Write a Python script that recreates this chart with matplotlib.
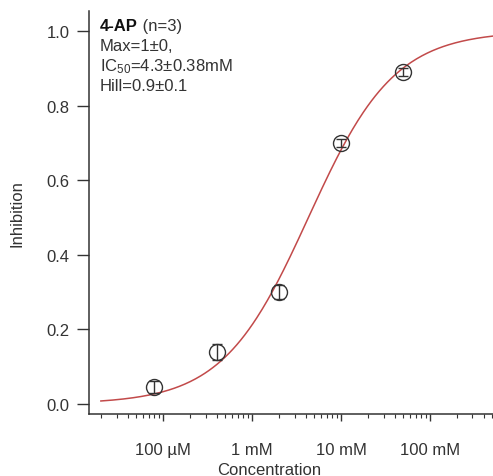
import numpy as np
import matplotlib
matplotlib.use('Agg')
import matplotlib.pyplot as plt

plt.rcParams['font.family'] = ['Liberation Sans', 'DejaVu Sans']
plt.rcParams['mathtext.fontset'] = 'custom'
plt.rcParams['mathtext.rm'] = 'Liberation Sans'
plt.rcParams['mathtext.it'] = 'Liberation Sans'

# data (concentration in M)
conc = [8e-5, 4e-4, 2e-3, 1e-2, 5e-2]
inhib = [0.045, 0.14, 0.30, 0.70, 0.89]
err = [0.016, 0.022, 0.019, 0.01, 0.01]

# fit parameters
fit_max = 1.0
ic50 = 4.3e-3
hill = 0.9
fit_start = 2e-5
fit_end = 0.6

xticks = [1e-4, 1e-3, 1e-2, 1e-1]
xticklabels = ['100 µM', '1 mM', '10 mM', '100 mM']
yticks = [0.0, 0.2, 0.4, 0.6, 0.8, 1.0]

fs = 12
fig = plt.figure(figsize=(4.93, 4.77), dpi=100)
ax = fig.add_axes([0.1805, 0.130, 0.8195, 0.845])

xs = np.logspace(np.log10(fit_start), np.log10(fit_end), 300)
ys = fit_max / (1 + (ic50 / xs) ** hill)
ax.plot(xs, ys, color='#c24a4a', lw=1.1, zorder=2)

ax.errorbar(conc, inhib, yerr=err, fmt='o', mfc='none', mec='#333333',
            ms=11.5, mew=1.0, ecolor='#333333', elinewidth=1.0, capsize=3.5,
            capthick=1.0, zorder=3)

ax.set_xscale('log')
ax.set_xlim(1.47e-5, 0.51)
ax.set_ylim(-0.027, 1.054)
ax.set_xticks(xticks)
ax.set_xticklabels(xticklabels)
ax.set_yticks(yticks)
ax.set_yticklabels(['%.1f' % v for v in yticks])

for s in ['top', 'right']:
    ax.spines[s].set_visible(False)
ax.spines['left'].set_linewidth(1.1)
ax.spines['bottom'].set_linewidth(1.1)
ax.spines['left'].set_color('#333333')
ax.spines['bottom'].set_color('#333333')
ax.tick_params(axis='y', direction='out', length=9, width=1.0, pad=5,
               labelsize=fs, colors='#333333')
ax.tick_params(axis='x', which='major', direction='out', length=5, width=1.0,
               pad=15, labelsize=fs, colors='#333333')
ax.tick_params(axis='x', which='minor', direction='out', length=3, width=0.8,
               colors='#333333')

ax.set_ylabel('Inhibition', fontsize=fs, labelpad=16, color='#333333')
ax.set_xlabel('Concentration', fontsize=fs, labelpad=3, color='#333333')
ax.xaxis.set_label_coords(0.445, -0.118)

# annotation, one line at a time (x in axes fraction, y in data units)
tr = ax.get_yaxis_transform()
t1 = ax.text(0.027, 1.003, '4-AP', transform=tr, fontsize=fs, fontweight='bold',
             va='baseline', ha='left', color='#111111')
fig.canvas.draw()
bb = t1.get_window_extent()
x2 = ax.transAxes.inverted().transform((bb.x1, bb.y0))[0]
ax.text(x2, 1.003, ' (n=3)', transform=tr, fontsize=fs, va='baseline',
        ha='left', color='#333333')
ax.text(0.027, 0.949, 'Max=1±0,', transform=tr, fontsize=fs, va='baseline',
        ha='left', color='#333333')
ax.text(0.027, 0.895, 'IC$_{50}$=4.3±0.38mM', transform=tr, fontsize=fs,
        va='baseline', ha='left', color='#333333')
ax.text(0.027, 0.842, 'Hill=0.9±0.1', transform=tr, fontsize=fs, va='baseline',
        ha='left', color='#333333')

plt.savefig('out.png', dpi=100)
